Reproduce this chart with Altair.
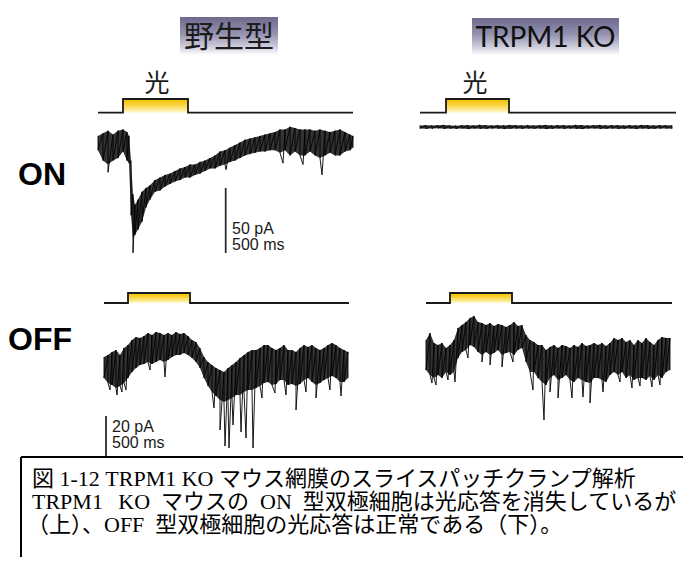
import altair as alt
import pandas as pd

# ============================================================ data
# Envelopes of the recorded currents (pA) sampled along time (ms).
# ON bipolar cell, wild type (two overlaid sweeps)
ON_WT_T = [0, 40, 80, 120, 160, 200, 232, 248, 264, 280, 296, 320, 352, 384, 416,
           456, 496, 536, 576, 616, 656, 696, 736, 776, 816, 856, 896, 936, 976, 1016,
           1056, 1096, 1136, 1176, 1216, 1256, 1296, 1336, 1376, 1416, 1456, 1496, 1536,
           1576, 1616, 1656, 1696, 1736, 1776, 1816, 1856, 1896, 1936, 1976, 2016, 2040]
ON_WT_TOP = [7, 9, 11, 8, 11, 12, 10, 7, -12, -38, -46, -42, -36, -33, -31,
             -27, -25, -23, -22, -20, -18, -17, -15, -15, -13, -12, -10, -8, -5, -4,
             -2, 0, 2, 4, 5, 6, 7, 8, 9, 10, 12, 12, 14, 13, 12, 12, 12, 11, 12, 11,
             10, 11, 12, 10, 8, 7]
ON_WT_BOT = [-4, -12, -15, -12, -10, -5, -12, -14, -54, -72, -69, -65, -59, -48, -42,
             -36, -35, -32, -30, -28, -27, -25, -25, -23, -22, -20, -18, -18, -16, -15,
             -13, -12, -10, -8, -7, -6, -5, -5, -4, -4, -6, -4, -8, -5, -8, -8, -5, -8,
             -10, -8, -6, -8, -8, -5, -4, -2]
ON_WT_SPIKE_T = [80, 280, 1024, 1480, 1640, 1792]
ON_WT_SPIKE_I = [-21, -83, -19, -14, -15, -23]

# ON bipolar cell, TRPM1 KO (flat, no response)
ON_KO_DT = 48
ON_KO_TOP = [1.2, 1.4, 1.1, 1.3, 1.5, 1.2, 1.0, 1.3, 1.4, 1.2, 1.6, 1.3, 1.1, 1.4, 1.2,
             1.5, 1.3, 1.2, 1.4, 1.1, 1.3, 1.5, 1.2, 1.4, 1.3, 1.1, 1.6, 1.4, 1.2, 1.3,
             1.5, 1.2, 1.4, 1.3, 1.1, 1.4, 1.2, 1.5, 1.3, 1.2, 1.4, 1.3, 1.1]
ON_KO_BOT = [-1.1, -1.3, -1.2, -1.0, -1.4, -1.2, -1.3, -1.1, -1.5, -1.2, -1.3, -1.4, -1.1,
             -1.2, -1.5, -1.3, -1.2, -1.4, -1.1, -1.3, -1.2, -1.5, -1.3, -1.1, -1.4, -1.2,
             -1.3, -1.5, -1.2, -1.1, -1.4, -1.3, -1.2, -1.4, -1.3, -1.1, -1.5, -1.2, -1.3,
             -1.4, -1.2, -1.1, -1.3]

# OFF bipolar cell, wild type
OFF_DT = 32
OFF_WT_TOP = [4, 5, 6.5, 7.5, 5, 8.5, 10, 12.5, 14, 13.5,
              14.5, 16, 15, 16.5, 16, 15, 16, 15, 16.5, 15.5,
              16, 14.5, 12.5, 11.5, 8.5, 4, 1.5, 0, -1.5, -2.5,
              -3.5, -1.5, 0, 1.5, 3.5, 5, 6.5, 7.5, 7.5, 8.5,
              10, 10, 8.5, 7.5, 8.5, 10, 7.5, 7.5, 6.5, 8.5,
              10, 9, 10, 8.5, 7.5, 8.5, 10, 11, 10, 8.5,
              7.5, 6.5]
OFF_WT_BOT = [-6.5, -9, -10, -11.5, -10.5, -9, -6.5, -3.5, -1.5, 0,
              0.5, 1.5, 0.5, 1.5, 2.5, 1.5, 2.5, 4, 5, 5,
              6, 5, 3.5, 1.5, -1.5, -6.5, -10.5, -13.5, -15.5, -17.5,
              -18.5, -17.5, -16.5, -15, -15, -13.5, -12.5, -12.5, -11.5, -10.5,
              -9, -8.5, -10, -9.5, -7.5, -7.5, -10, -9.5, -10.5, -9.5,
              -7.5, -6.5, -8.5, -10, -9, -7.5, -6.5, -5.5, -6.5, -8.5,
              -8.5, -6.5]
OFF_WT_SPIKE_T = [48, 104, 144, 176, 368, 488, 880, 928, 968, 1000, 1032, 1096, 1136,
                  1192, 1264, 1368, 1456, 1536, 1616, 1696, 1808, 1896]
OFF_WT_SPIKE_I = [-12.5, -15, -13.5, -12.5, -2.5, -6, -21.5, -32.5, -40.5, -41.5, -30,
                  -33.5, -36.5, -41.5, -16.5, -14, -15, -22.5, -13.5, -16.5, -12.5, -15.5]

# OFF bipolar cell, TRPM1 KO (normal response)
OFF_KO_TOP = [7.5, 11, 6, 5, 6, 3.5, 5, 7.5, 13.5, 15,
              16.5, 18.5, 19.5, 16.5, 16, 15, 16, 14.5, 15.5, 15,
              14, 15, 16.5, 14.5, 15, 10, 7.5, 6.5, 5, 5,
              2.5, 4, 5, 3.5, 5, 4.5, 3.5, 5, 4, 6,
              4.5, 5, 6, 5, 6, 4.5, 6, 8.5, 7.5, 8.5,
              6.5, 7.5, 5, 7.5, 6, 8.5, 6.5, 5, 7.5, 9,
              8.5, 8.5]
OFF_KO_BOT = [-7.5, -10, -11.5, -10, -11.5, -8.5, -10, -8.5, -1.5, 1.5,
              2.5, 5, 4, 1.5, 0, 1.5, 0, 1, 2.5, 0,
              1, 1.5, 0, 2.5, 3.5, -3.5, -8.5, -8.5, -11.5, -13.5,
              -15, -11.5, -10, -12.5, -11.5, -10, -12.5, -13.5, -11.5, -12.5,
              -13.5, -14, -11.5, -11.5, -12.5, -13.5, -10, -8.5, -10, -8.5,
              -11.5, -10, -12.5, -11.5, -11.5, -12.5, -10.5, -12.5, -10, -11.5,
              -8.5, -7.5]
OFF_KO_SPIKE_T = [48, 80, 176, 232, 336, 448, 512, 608, 696, 856, 944, 992, 1056, 1168,
                  1256, 1312, 1416, 1552, 1648, 1712, 1808, 1872]
OFF_KO_SPIKE_I = [-14, -15, -12.5, -13.5, -1.5, -3.5, -5, -6, -3.5, -17.5, -32.5, -18.5,
                  -21.5, -21.5, -21, -24, -18.5, -13.5, -16.5, -15.5, -16, -15]

# light stimulus protocol (ms): light on, light off, end of sweep
STIM_ON = {"on_wt": 200, "on_ko": 208, "off_wt": 192, "off_ko": 192}
STIM_OFF = {"on_wt": 720, "on_ko": 712, "off_wt": 688, "off_ko": 688}
STIM_END = {"on_wt": 2040, "on_ko": 2048, "off_wt": 1960, "off_ko": 1968}

# scale bars
SCALE_PA = {"on": 50, "off": 20}
SCALE_LABELS = {"on": ["50 pA", "500 ms"], "off": ["20 pA", "500 ms"]}

GROUPS = ["野生型", "TRPM1 KO"]
ROWS = ["ON", "OFF"]
LIGHT = "光"
EN = "\u2002"  # half-width (en) space as in the original Mincho typesetting
CAPTION = ["図 1-12 TRPM1 KO マウス網膜のスライスパッチクランプ解析",
           "TRPM1" + EN + "\u2009KO" + EN + "マウスの" + EN + "ON" + EN + "型双極細胞は光応答を消失しているが",
           "（上）、OFF" + EN + "型双極細胞の光応答は正常である（下）。"]

# ============================================================ layout
W, H = 675, 549
X_DOM = [8, 683]
Y_DOM = [8, 557]
PX_PER_MS = 0.125
# panel: x of t=0, y of 0 pA, px per pA
PANELS = {"on_wt": (98, 145, 1.3), "on_ko": (420, 127, 1.3),
          "off_wt": (104, 365, 2.0), "off_ko": (426, 355, 2.0)}
# stimulus: baseline y, step height
STIM_Y = {"on_wt": (112.7, 13.7), "on_ko": (112.7, 13.7),
          "off_wt": (303, 10), "off_ko": (303, 10)}


def X(f):
    return alt.X(f, type="quantitative", axis=None,
                 scale=alt.Scale(domain=X_DOM, nice=False, zero=False))


def Y(f):
    return alt.Y(f, type="quantitative", axis=None,
                 scale=alt.Scale(domain=Y_DOM, nice=False, zero=False, reverse=True))


traces = {
    "on_wt": (ON_WT_T, ON_WT_TOP, ON_WT_BOT, ON_WT_SPIKE_T, ON_WT_SPIKE_I),
    "on_ko": ([i * ON_KO_DT for i in range(len(ON_KO_TOP))], ON_KO_TOP, ON_KO_BOT, [], []),
    "off_wt": ([i * OFF_DT for i in range(len(OFF_WT_TOP))], OFF_WT_TOP, OFF_WT_BOT,
               OFF_WT_SPIKE_T, OFF_WT_SPIKE_I),
    "off_ko": ([i * OFF_DT for i in range(len(OFF_KO_TOP))], OFF_KO_TOP, OFF_KO_BOT,
               OFF_KO_SPIKE_T, OFF_KO_SPIKE_I),
}

env_rows, zz_rows = [], []
for name, (ts, top, bot, st, si) in traces.items():
    x0, y0, k = PANELS[name]
    pts = []
    for t, a, b in zip(ts, top, bot):
        env_rows.append({"trace": name, "px": x0 + t * PX_PER_MS,
                         "ptop": y0 - a * k, "pbot": y0 - b * k})
        pts.append((t, 0, a))
        pts.append((t, 1, b))
    for t, v in zip(st, si):
        pts.append((t, 2, v))
    pts.sort()
    for n, (t, kind, v) in enumerate(pts):
        zz_rows.append({"trace": name, "ord": n, "px": x0 + t * PX_PER_MS, "py": y0 - v * k})
env_df = pd.DataFrame(env_rows)
zz_df = pd.DataFrame(zz_rows)

stim_line, stim_box = [], []
for name in PANELS:
    x0 = PANELS[name][0]
    base, hgt = STIM_Y[name]
    seq_t = [0, STIM_ON[name], STIM_ON[name], STIM_OFF[name], STIM_OFF[name], STIM_END[name]]
    seq_l = [0, 0, 1, 1, 0, 0]
    for n, (t, l) in enumerate(zip(seq_t, seq_l)):
        stim_line.append({"trace": name, "ord": n, "px": x0 + t * PX_PER_MS, "py": base - l * hgt})
    stim_box.append({"x": x0 + STIM_ON[name] * PX_PER_MS, "x2": x0 + STIM_OFF[name] * PX_PER_MS,
                     "y": base - hgt, "y2": base})
stim_line_df = pd.DataFrame(stim_line)
stim_box_df = pd.DataFrame(stim_box)

# scale bars
BAR_POS = {"on": (225.7, 188, 1.3), "off": (106, 416, 2.0)}
bar_df = pd.DataFrame([{"x": BAR_POS[r][0], "y": BAR_POS[r][1],
                        "y2": BAR_POS[r][1] + SCALE_PA[r] * BAR_POS[r][2]} for r in ["on", "off"]])
SCALE_TXT_POS = {"on": (232, [234, 250]), "off": (112, [432, 448])}
scale_txt_df = pd.DataFrame([{"x": SCALE_TXT_POS[r][0], "y": SCALE_TXT_POS[r][1][j],
                              "text": SCALE_LABELS[r][j]} for r in ["on", "off"] for j in range(2)])

header_box_df = pd.DataFrame([{"x": 180, "x2": 278, "y": 17, "y2": 55},
                              {"x": 472, "x2": 619, "y": 18, "y2": 55}])
head_jp_df = pd.DataFrame([{"x": 229, "y": 38, "text": GROUPS[0]}])
head_en_df = pd.DataFrame([{"x": 545.5, "y": 47, "text": GROUPS[1]}])
light_df = pd.DataFrame([{"x": 157, "y": 83.5, "text": LIGHT}, {"x": 475, "y": 83.5, "text": LIGHT}])
row_df = pd.DataFrame([{"x": 18, "y": 185, "text": ROWS[0]}, {"x": 8, "y": 350, "text": ROWS[1]}])
box_df = pd.DataFrame([{"x": 21, "x2": 683, "y": 457, "y2": 457},
                       {"x": 21, "x2": 21, "y": 457, "y2": 557}])
cap_df = pd.DataFrame([{"x": 32 if i < 2 else 27, "y": 479 + 23 * i, "text": CAPTION[i]}
                       for i in range(3)])

# ============================================================ chart
head_grad = alt.Gradient(gradient="linear", x1=0, x2=0, y1=0, y2=1, stops=[
    alt.GradientStop(color="#6c698c", offset=0),
    alt.GradientStop(color="#9593b0", offset=0.45),
    alt.GradientStop(color="#d2d1df", offset=0.8),
    alt.GradientStop(color="#ffffff", offset=1)])
yellow_grad = alt.Gradient(gradient="linear", x1=0, x2=0, y1=0, y2=1, stops=[
    alt.GradientStop(color="#f3bd00", offset=0),
    alt.GradientStop(color="#fad84a", offset=0.5),
    alt.GradientStop(color="#fff7d2", offset=1)])

layers = [
    alt.Chart(header_box_df).mark_rect(fill=head_grad, strokeWidth=0).encode(
        x=X("x"), x2="x2", y=Y("y"), y2="y2"),
    alt.Chart(head_jp_df).mark_text(font="Noto Sans CJK JP", fontSize=30, color="#1c1c1c",
                                    align="center", baseline="middle").encode(
        x=X("x"), y=Y("y"), text="text:N"),
    alt.Chart(head_en_df).mark_text(font="Lato", fontSize=28, color="#111111",
                                    align="center", baseline="alphabetic").encode(
        x=X("x"), y=Y("y"), text="text:N"),
    alt.Chart(stim_box_df).mark_rect(fill=yellow_grad, strokeWidth=0).encode(
        x=X("x"), x2="x2", y=Y("y"), y2="y2"),
    alt.Chart(stim_line_df).mark_line(color="#1a1a1a", strokeWidth=1.8).encode(
        x=X("px"), y=Y("py"), order="ord:Q", detail="trace:N"),
    alt.Chart(light_df).mark_text(font="Noto Sans CJK JP", fontSize=25, color="#1a1a1a",
                                  align="center", baseline="middle").encode(
        x=X("x"), y=Y("y"), text="text:N"),
    alt.Chart(env_df).mark_area(color="#000000", opacity=0.8).encode(
        x=X("px"), y=Y("ptop"), y2="pbot", detail="trace:N"),
    alt.Chart(zz_df).mark_line(color="#000000", strokeWidth=0.9, strokeJoin="round").encode(
        x=X("px"), y=Y("py"), order="ord:Q", detail="trace:N"),
    alt.Chart(bar_df).mark_rule(color="#2a2a2a", strokeWidth=1.8).encode(
        x=X("x"), y=Y("y"), y2="y2"),
    alt.Chart(scale_txt_df).mark_text(font="Liberation Sans", fontSize=16, color="#1a1a1a",
                                      align="left", baseline="alphabetic").encode(
        x=X("x"), y=Y("y"), text="text:N"),
    alt.Chart(row_df).mark_text(font="Liberation Sans", fontSize=32, fontWeight="bold",
                                color="#000000", align="left", baseline="alphabetic").encode(
        x=X("x"), y=Y("y"), text="text:N"),
    alt.Chart(box_df).mark_rule(color="#000000", strokeWidth=2).encode(
        x=X("x"), x2="x2", y=Y("y"), y2="y2"),
    alt.Chart(cap_df).mark_text(font="Liberation Serif, Noto Sans CJK JP", fontSize=22,
                                color="#000000", align="left", baseline="middle").encode(
        x=X("x"), y=Y("y"), text="text:N"),
]

chart = alt.layer(*layers).properties(
    width=W, height=H, padding=0, background="#ffffff",
    autosize=alt.AutoSizeParams(type="none")).configure_view(stroke=None)

chart.save("out.html", embed_options={"renderer": "svg", "actions": False})
